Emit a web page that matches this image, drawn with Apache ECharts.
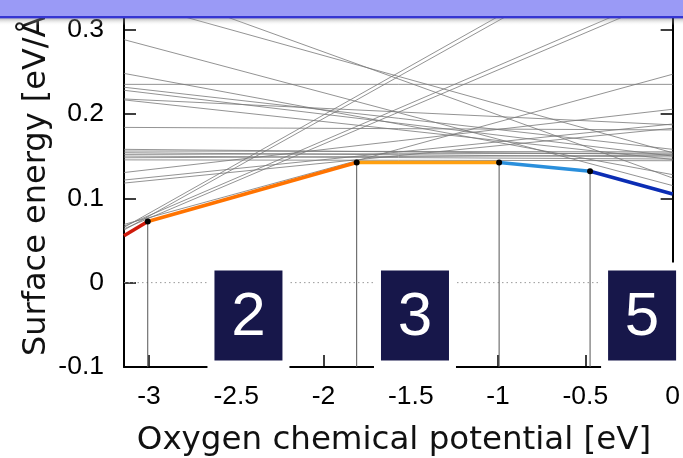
<!DOCTYPE html>
<html><head><meta charset="utf-8">
<script src="https://cdn.jsdelivr.net/npm/echarts@6/dist/echarts.min.js"></script>
<style>html,body{margin:0;padding:0;background:#fff}#c{width:683px;height:458px}</style>
</head><body><div id="c"></div>
<script>
// ---- data ----
const muMin = -3.143, muMax = 0;
const xTicks = [-3, -2.5, -2, -1.5, -1, -0.5, 0];
const yTicks = [-0.1, 0, 0.1, 0.2, 0.3];
// other terminations: surface energy at left edge (mu = muMin) and right edge (mu = 0)
const grayLeft  = [0.359, 0.335, 0.288, 0.248, 0.235, 0.2316, 0.228, 0.2177, 0.2166, 0.184,
                   0.158, 0.156, 0.154, 0.152, 0.150, 0.148, 0.1455,
                   0.1305, 0.1216, 0.118, 0.0623, 0.0655, 0.0638, 0.0668, 0.069];
const grayRight = [0.124, 0.154, 0.115, 0.128, 0.235, 0.158, 0.150, 0.187, 0.146, 0.181,
                   0.152, 0.155, 0.149, 0.1535, 0.1465, 0.151, 0.1445,
                   0.2055, 0.188, 0.183, 0.426, 0.432, 0.340, 0.346, 0.247];
// stable envelope (lower hull) break points
const envMu    = [-3.143, -3.007, -1.81, -0.994, -0.473, 0];
const envGamma = [0.0556, 0.0725, 0.1424, 0.1424, 0.132, 0.105];
const phaseNames = ['2', '3', '5'];
const phaseMu = [-2.43, -1.476, -0.175];
const phaseGamma = [-0.039, -0.039, -0.039];

// ---- styles ----
const segColors = ['#cf1b0c', '#ff7300', '#ffa010', '#2a8fdc', '#0b2db4'];
const tickFont = 'Liberation Sans, Arial, sans-serif';

const chart = echarts.init(document.getElementById('c'), null, {renderer: 'canvas'});
const series = [];
grayLeft.forEach((l, i) => {
  series.push({type: 'line', data: [[muMin, l], [muMax, grayRight[i]]], symbol: 'none', silent: true,
    lineStyle: {color: '#777', width: 0.8}, z: 2});
});
series.push({type: 'line', data: [[muMin, 0], [muMax, 0]], symbol: 'none', silent: true,
  lineStyle: {color: '#9a9a9a', width: 1, type: [1.5, 3]}, z: 2});
for (let i = 1; i < envMu.length - 1; i++) {
  series.push({type: 'line', data: [[envMu[i], envGamma[i]], [envMu[i], yTicks[0]]], symbol: 'none', silent: true,
    lineStyle: {color: '#555', width: 1}, z: 3});
}
for (let i = 0; i < envMu.length - 1; i++) {
  series.push({type: 'line', data: [[envMu[i], envGamma[i]], [envMu[i + 1], envGamma[i + 1]]], symbol: 'none', silent: true,
    lineStyle: {color: segColors[i], width: 3.6, cap: 'butt'}, z: 5});
}
series.push({type: 'scatter', data: envMu.slice(1, -1).map((m, i) => [m, envGamma[i + 1]]), symbolSize: 6,
  itemStyle: {color: '#000', opacity: 1}, z: 6, silent: true});
series.push({type: 'scatter', data: phaseMu.map((m, i) => [m, phaseGamma[i]]), symbol: 'rect', symbolSize: [82, 106],
  itemStyle: {color: '#fff', opacity: 1}, z: 8, silent: true, clip: false});
series.push({type: 'scatter', data: phaseMu.map((m, i) => ({value: [m, phaseGamma[i]], name: phaseNames[i]})), symbol: 'rect', symbolSize: [68, 90],
  itemStyle: {color: '#17174a', opacity: 1}, z: 9, silent: true, clip: false,
  label: {show: true, position: 'inside', formatter: p => p.name, color: '#fff', fontSize: 62, fontFamily: tickFont, offset: [0, 2]}});
series.forEach(s => { s.yAxisIndex = 0; s.animation = false; });

const option = {
  animation: false,
  backgroundColor: '#fff',
  grid: {left: 124, right: 9, top: 0, bottom: 91},
  xAxis: {type: 'value', min: muMin, max: muMax, splitLine: {show: false},
    axisLine: {show: true, onZero: false, lineStyle: {color: '#000', width: 2}},
    axisTick: {show: true, inside: true, length: 12, customValues: xTicks, lineStyle: {color: '#000', width: 1.5}},
    axisLabel: {customValues: xTicks, fontSize: 26.5, color: '#000', margin: 16, fontFamily: tickFont, showMaxLabel: true, showMinLabel: true}},
  yAxis: [
    {type: 'value', min: yTicks[0], max: 0.335, splitLine: {show: false},
      axisLine: {show: true, onZero: false, lineStyle: {color: '#000', width: 2}},
      axisTick: {show: true, inside: true, length: 12, customValues: yTicks, lineStyle: {color: '#000', width: 1.5}},
      axisLabel: {customValues: yTicks, fontSize: 26.5, color: '#000', margin: 20, fontFamily: tickFont}},
    {type: 'value', position: 'right', min: yTicks[0], max: 0.335, splitLine: {show: false},
      axisLine: {show: true, onZero: false, lineStyle: {color: '#000', width: 2}},
      axisTick: {show: true, inside: true, length: 12, customValues: yTicks, lineStyle: {color: '#000', width: 1.5}},
      axisLabel: {show: false}}
  ],
  graphic: [
    {type: 'text', z: 50, x: 394, y: 424, style: {text: 'Oxygen chemical potential [eV]', font: '32.5px "DejaVu Sans"', fill: '#111', align: 'center', verticalAlign: 'top'}},
    {type: 'text', z: 50, x: 37, y: 356, rotation: Math.PI / 2,
      style: {text: '{a|Surface energy [eV/Å}{s|2}{a|]}', align: 'left', verticalAlign: 'middle',
        rich: {a: {font: '32px "DejaVu Sans"', fill: '#111'}, s: {font: '18px "DejaVu Sans"', fill: '#111', verticalAlign: 'top', padding: [0, 0, 16, 0]}}}},
    {type: 'rect', z: 100, shape: {x: 0, y: 0, width: 683, height: 16}, style: {fill: '#9a9af6'}},
    {type: 'rect', z: 100, shape: {x: 0, y: 16, width: 683, height: 2.5}, style: {fill: '#3535d2'}},
    {type: 'rect', z: 100, shape: {x: 0, y: 18.5, width: 683, height: 7},
      style: {fill: new echarts.graphic.LinearGradient(0, 0, 0, 1, [{offset: 0, color: 'rgba(110,110,110,0.45)'}, {offset: 1, color: 'rgba(255,255,255,0)'}])}}
  ],
  series: series
};
chart.setOption(option);
</script></body></html>
